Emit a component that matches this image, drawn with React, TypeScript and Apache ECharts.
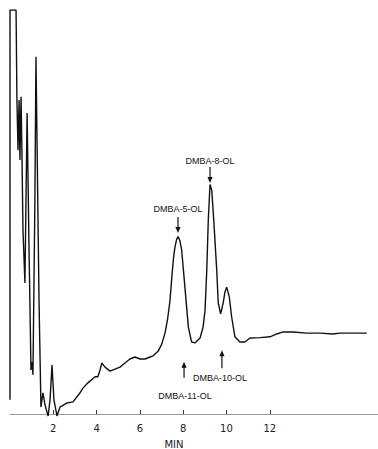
import React, { useEffect, useRef } from "react";
import * as echarts from "echarts";

// Retention time (min) and detector signal (arbitrary units, 0-100)
const times = [
  0, 0, 0.28, 0.32, 0.37, 0.42, 0.46, 0.51, 0.55, 0.6, 0.69, 0.79, 0.88, 0.97, 1.02, 1.06,
  1.15, 1.2, 1.34, 1.43, 1.52, 1.62, 1.76, 1.85, 1.94, 2.03, 2.17, 2.31, 2.62, 2.91, 3.23,
  3.37, 3.6, 3.93, 4.06, 4.16, 4.24, 4.39, 4.62, 4.85, 5.08, 5.31, 5.54, 5.77, 6.0, 6.24,
  6.47, 6.61, 6.84, 7.01, 7.16, 7.28, 7.39, 7.47, 7.55, 7.62, 7.7, 7.77, 7.85, 7.93, 8.08,
  8.24, 8.39, 8.55, 8.78, 8.92, 9.01, 9.09, 9.16, 9.24, 9.32, 9.42, 9.55, 9.62, 9.73, 9.85,
  9.93, 10.01, 10.13, 10.24, 10.39, 10.62, 10.85, 11.09, 11.55, 12.01, 12.32, 12.62, 13.09,
  13.7, 14.32, 14.93, 15.24, 15.86, 16.48,
];
const signal = [
  3.5, 100, 100, 77.7, 65.3, 77.7, 62.9, 78.5, 65.3, 45.5, 32.4, 74.5, 40.6, 10.9, 12.9, 9.7,
  53, 88.4, 28.2, 1.7, 5.2, 2.2, -0.5, 3.5, 12.1, 3.5, -0.5, 1.7, 2.7, 3.0, 5.2,
  6.4, 7.7, 9.2, 9.2, 10.9, 12.6, 11.6, 10.6, 11.1, 11.6, 12.6, 13.6, 14.1, 13.6, 13.6,
  14.1, 14.4, 15.5, 17.3, 20, 23.5, 28, 33.5, 38.5, 41.3, 43.3, 43.9, 42.8, 40.6, 31.4,
  21.5, 17.8, 17.6, 18.8, 21.5, 25.7, 35.6, 48, 56.8, 55.4, 47.3, 35.6, 27.5, 24.8, 27.5,
  30.2, 31.4, 29.0, 24.0, 19.1, 17.8, 17.8, 18.8, 18.9, 19.1, 19.8, 20.3, 20.3,
  20.0, 20.0, 19.8, 20.0, 20.0, 20.0,
];

const tickLabels = [2, 4, 6, 8, 10, 12];

// Peak annotations (data position of arrow tip)
const annotationNames = ["DMBA-8-OL", "DMBA-5-OL", "DMBA-11-OL", "DMBA-10-OL"];
const annotationTimes = [9.24, 7.76, 8.04, 9.79];
const annotationValues = [57.2, 44.8, 12.9, 15.8];
const annotationDirections = ["down", "down", "up", "up"];

// styling of annotations (pixels)
const arrowLengths = [16, 16, 16, 18];
const textOffsets = [
  [0, -22],
  [0, -24],
  [1, 34],
  [-2, 28],
];

export default function App() {
  const ref = useRef<HTMLDivElement>(null);

  useEffect(() => {
    if (!ref.current) return;
    const chart = echarts.init(ref.current, null, { renderer: "svg" });
    const data = times.map((t, i) => [t, signal[i]]);
    chart.setOption({
      animation: false,
      backgroundColor: "#ffffff",
      grid: {
        left: 10,
        right: 0,
        top: 10,
        bottom: 31,
        containLabel: false,
        outerBoundsMode: "none",
      },
      xAxis: {
        type: "value",
        min: 0,
        max: 17,
        interval: 1,
        name: "MIN",
        nameLocation: "middle",
        nameGap: 21,
        nameTextStyle: {
          fontFamily: "DejaVu Sans",
          fontSize: 10,
          color: "#222",
          padding: [0, 40, 0, 0],
        },
        axisLine: { onZero: true, lineStyle: { color: "#9a9a9a", width: 1 } },
        axisTick: {
          inside: true,
          length: 4,
          customValues: tickLabels,
          lineStyle: { color: "#333", width: 1 },
        },
        axisLabel: {
          customValues: tickLabels,
          margin: 5,
          fontFamily: "DejaVu Sans",
          fontSize: 10,
          color: "#222",
        },
        splitLine: { show: false },
      },
      yAxis: {
        type: "value",
        min: -1,
        max: 100,
        show: false,
        splitLine: { show: false },
      },
      series: [
        {
          type: "line",
          data,
          showSymbol: false,
          symbol: "none",
          lineStyle: { color: "#111", width: 1.4 },
          z: 3,
        },
      ],
    });

    const elements: any[] = [];
    annotationNames.forEach((name, i) => {
      const p = chart.convertToPixel({ xAxisIndex: 0, yAxisIndex: 0 }, [
        annotationTimes[i],
        annotationValues[i],
      ]) as number[];
      const [x, tipY] = p;
      const down = annotationDirections[i] === "down";
      const len = arrowLengths[i];
      const s = down ? -1 : 1;
      const tailY = tipY + s * len;
      elements.push({
        type: "line",
        shape: { x1: x, y1: tailY, x2: x, y2: tipY + s * 5 },
        style: { stroke: "#111", lineWidth: 1.2 },
      });
      elements.push({
        type: "polygon",
        shape: {
          points: [
            [x - 2.6, tipY + s * 6],
            [x + 2.6, tipY + s * 6],
            [x, tipY],
          ],
        },
        style: { fill: "#111" },
      });
      elements.push({
        type: "text",
        x: x + textOffsets[i][0],
        y: tipY + textOffsets[i][1],
        style: {
          text: name,
          fontFamily: "Liberation Sans",
          fontSize: 9,
          fill: "#111",
          align: "center",
          verticalAlign: "middle",
        },
      });
    });
    chart.setOption({ graphic: { elements } });

    return () => chart.dispose();
  }, []);

  return (
    <div
      ref={ref}
      style={{ position: "fixed", left: 0, top: 0, width: 378, height: 449 }}
    />
  );
}
